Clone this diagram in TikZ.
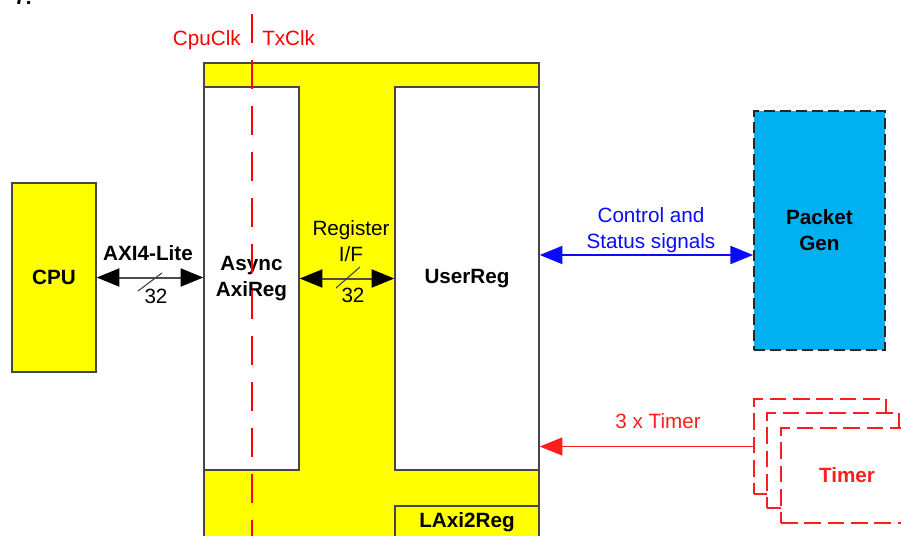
\documentclass[tikz,border=0pt]{standalone}
\usepackage{fontspec}
\setmainfont{Liberation Sans}
\usetikzlibrary{arrows.meta}

\definecolor{blkyellow}{RGB}{255,255,0}
\definecolor{pktcyan}{RGB}{0,176,240}
\definecolor{boxgray}{RGB}{70,70,70}
\definecolor{clkred}{RGB}{255,0,0}
\definecolor{tmrred}{RGB}{255,30,30}
\definecolor{sigblue}{RGB}{10,10,255}

\newcommand\dgmfont{\fontsize{15.5}{19.5}\selectfont}

\tikzset{
  blk/.style={draw=boxgray, line width=1.1pt, inner sep=0pt, align=center, font=\dgmfont\bfseries},
  tmr/.style={draw=tmrred, line width=1.3pt, dash pattern=on 12.5pt off 5pt, fill=white, inner sep=0pt,
    minimum width=99pt, minimum height=71.25pt},
  lbl/.style={inner sep=0pt, align=center},
  bus/.style={line width=1.5pt, {Triangle[length=17pt,width=13.5pt]}-{Triangle[length=17pt,width=13.5pt]}},
  axibus/.style={line width=1.5pt, black!70,
    {Triangle[length=17pt,width=13.5pt,color=black]}-{Triangle[length=17pt,width=13.5pt,color=black]}},
}

\begin{document}
\begin{tikzpicture}[x=0.75pt, y=-0.75pt, font=\dgmfont]
	\useasboundingbox (0,0) rectangle (901,536);
	\node[anchor=base west, inner sep=0pt, font=\dgmfont\bfseries] (fig) at (14,4) {7.};
	% LAxi2Reg
	\node[blk, fill=blkyellow, minimum width=251.25pt, minimum height=361.5pt] (laxi) at (371.5,304) {};
	\node[blk, fill=white, minimum width=71.25pt, minimum height=287.25pt] (async) at (251.5,278.5) {Async\\AxiReg};
	\node[blk, fill=white, minimum width=108pt, minimum height=287.25pt] (user) at (467,278.5) {UserReg};
	\node[blk, fill=blkyellow, minimum width=108pt, minimum height=24pt] (name) at (467,522) {LAxi2Reg};
	% CPU
	\node[blk, fill=blkyellow, minimum width=63pt, minimum height=141.75pt] (cpu) at (54,277.5) {CPU};
	% Packet Gen
	\node[blk, fill=pktcyan, draw=black!85, line width=1.4pt, dash pattern=on 8pt off 4pt,
		minimum width=98.25pt, minimum height=179.25pt] (pkt) at (819.5,230.5) {Packet\\Gen};
	% Timer
	\node[tmr] (tmr1) at (820,446.5) {};
	\node[tmr] (tmr2) at (833,460.5) {};
	\node[tmr, text=tmrred, font=\dgmfont\bfseries] (tmr3) at (847,475.5) {Timer};
	% clock domains
	\coordinate (clktop) at (252,14);
	\coordinate (clkbot) at (252,545);
	\draw[clkred, line width=1.1pt, dash pattern=on 21.75pt off 12.75pt] (clktop) -- (clkbot);
	\node[lbl, text=clkred, anchor=base east] (cpuclk) at (241,45) {CpuClk};
	\node[lbl, text=clkred, anchor=base west] (txclk) at (262,45) {TxClk};
	% AXI4-Lite
	\draw[axibus] (cpu.east) -- (async.west |- cpu.east);
	\draw[black!75, line width=0.8pt] (138,291) -- (162,273);
	\node[lbl, font=\dgmfont\bfseries, anchor=base] (axilbl) at (148,260) {AXI4-Lite};
	\node[lbl, anchor=base] (w32a) at (156,303) {32};
	% Register I/F
	\draw[axibus] (async.east) -- (user.west);
	\draw[black!75, line width=0.8pt] (336,288) -- (360,267);
	\node[lbl] (reglbl) at (351,241.5) {Register\\I/F};
	\node[lbl, anchor=base] (w32b) at (353,302) {32};
	% Control and Status
	\coordinate (ctl) at (650,255);
	\draw[bus, sigblue] (user.east |- ctl) -- (pkt.west |- ctl);
	\node[lbl, text=sigblue] (ctllbl) at (651,230.5) {Control and\\Status signals};
	% 3 x Timer
	\draw[line width=1.1pt, tmrred, -{Triangle[length=17pt,width=13.5pt]}] (tmr1.west) -- (user.east |- tmr1.west);
	\node[lbl, text=tmrred] (tmrlbl) at (658,421.5) {3 x Timer};
\end{tikzpicture}
\end{document}
